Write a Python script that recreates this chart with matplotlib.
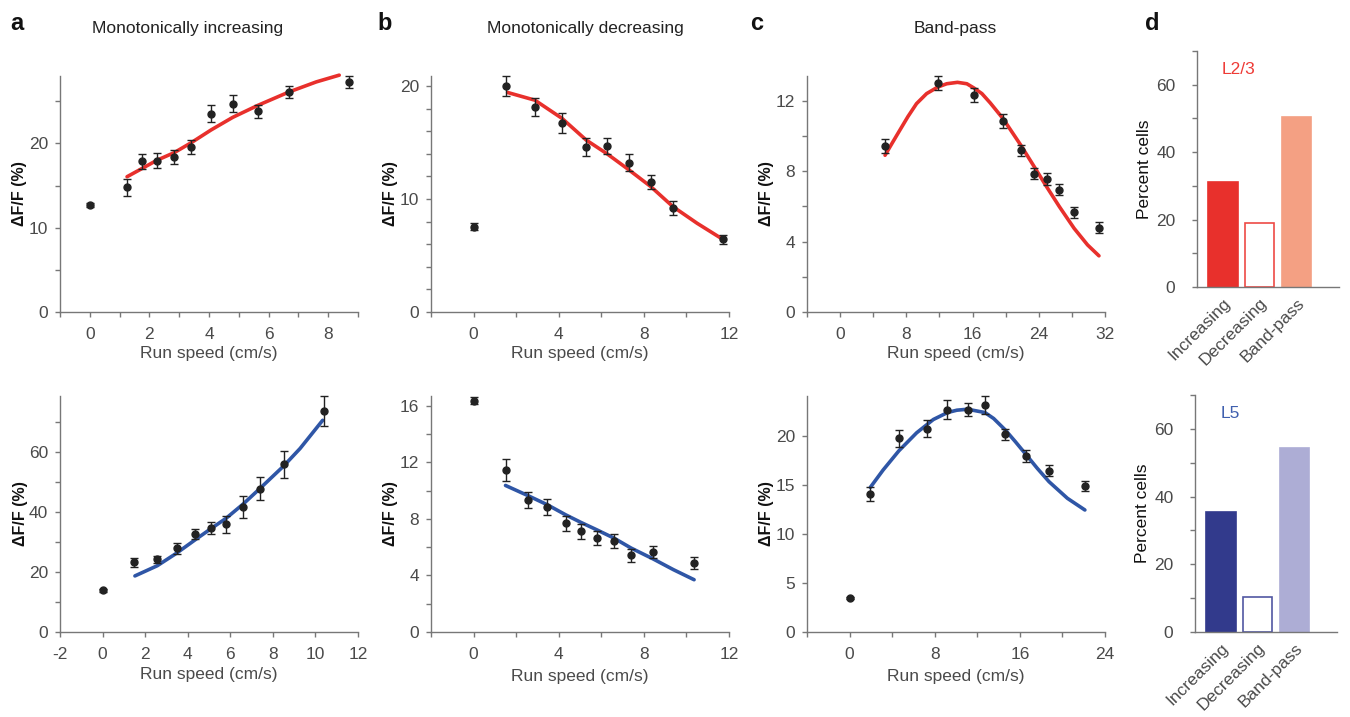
import matplotlib
matplotlib.use('Agg')
import matplotlib.pyplot as plt
from matplotlib.ticker import MultipleLocator

plt.rcParams['font.family'] = ['Liberation Sans', 'DejaVu Sans']
plt.rcParams['axes.unicode_minus'] = False

W, H = 1350, 717

# ---- data: L2/3 (top row) ----
inc23_x = [0, 1.24, 1.74, 2.25, 2.83, 3.41, 4.07, 4.80, 5.63, 6.68, 8.70]
inc23_y = [12.7, 14.8, 17.9, 17.95, 18.4, 19.6, 23.55, 24.7, 23.8, 26.1, 27.3]
inc23_e = [0.2, 1.0, 0.9, 0.9, 0.8, 0.8, 1.0, 1.0, 0.8, 0.7, 0.7]
inc23_fx = [1.25, 1.74, 2.25, 2.83, 3.41, 4.07, 4.80, 5.63, 6.68, 7.6, 8.37]
inc23_fy = [16.05, 17.0, 18.0, 18.9, 20.1, 21.6, 23.1, 24.5, 26.1, 27.3, 28.1]

dec23_x = [0, 1.53, 2.88, 4.16, 5.29, 6.28, 7.29, 8.33, 9.36, 11.74]
dec23_y = [7.57, 20.0, 18.17, 16.76, 14.58, 14.7, 13.2, 11.5, 9.19, 6.45]
dec23_e = [0.3, 0.9, 0.8, 0.9, 0.8, 0.7, 0.75, 0.65, 0.6, 0.4]
dec23_fx = [1.6, 2.88, 4.16, 5.29, 6.28, 7.29, 8.33, 9.36, 10.5, 11.74]
dec23_fy = [19.44, 18.76, 17.14, 15.23, 14.0, 12.6, 11.1, 9.34, 7.86, 6.4]

bp23_x = [5.43, 11.79, 16.16, 19.68, 21.83, 23.45, 24.95, 26.49, 28.27, 31.27]
bp23_y = [9.43, 13.0, 12.32, 10.87, 9.17, 7.85, 7.55, 6.94, 5.66, 4.79]
bp23_e = [0.42, 0.38, 0.42, 0.4, 0.3, 0.3, 0.35, 0.32, 0.32, 0.3]
bp23_fx = [5.43, 6.3, 7.21, 8.2, 9.23, 10.45, 11.79, 12.88, 14.18, 15.31,
           16.16, 17.13, 18.14, 19.68, 21.83, 23.45, 24.95, 26.49, 28.27,
           29.89, 31.27]
bp23_fy = [8.9, 9.6, 10.32, 11.1, 11.83, 12.40, 12.77, 12.96, 13.04, 12.96,
           12.72, 12.40, 11.87, 10.98, 9.47, 8.25, 7.11, 5.98, 4.75, 3.81, 3.19]

# ---- data: L5 (bottom row) ----
inc5_x = [0, 1.49, 2.57, 3.48, 4.34, 5.08, 5.80, 6.61, 7.40, 8.50, 10.38]
inc5_y = [13.9, 23.2, 24.3, 27.9, 32.7, 34.6, 35.9, 41.8, 47.8, 55.9, 73.6]
inc5_e = [0.5, 1.4, 1.2, 1.9, 1.7, 2.0, 2.8, 3.7, 3.8, 4.5, 5.0]
inc5_fx = [1.52, 2.57, 3.48, 4.34, 5.08, 5.80, 6.61, 7.40, 8.50, 9.28, 10.34]
inc5_fy = [18.7, 22.1, 26.3, 30.7, 34.4, 37.9, 42.7, 47.9, 55.3, 61.2, 70.6]

dec5_x = [0, 1.50, 2.57, 3.47, 4.33, 5.05, 5.79, 6.60, 7.40, 8.45, 10.36]
dec5_y = [16.38, 11.47, 9.35, 8.84, 7.70, 7.12, 6.64, 6.46, 5.42, 5.68, 4.88]
dec5_e = [0.28, 0.8, 0.55, 0.58, 0.52, 0.51, 0.48, 0.5, 0.45, 0.42, 0.42]
dec5_fx = [1.50, 2.57, 3.47, 4.33, 5.05, 5.79, 6.60, 7.40, 8.45, 9.39, 10.36]
dec5_fy = [10.37, 9.64, 9.0, 8.29, 7.75, 7.23, 6.64, 5.94, 5.16, 4.41, 3.70]

bp5_x = [0, 1.95, 4.63, 7.24, 9.20, 11.09, 12.72, 14.65, 16.54, 18.74, 22.11]
bp5_y = [3.5, 14.09, 19.76, 20.78, 22.72, 22.72, 23.16, 20.2, 17.96, 16.47, 14.9]
bp5_e = [0.12, 0.68, 0.85, 0.85, 0.95, 0.7, 0.9, 0.58, 0.6, 0.58, 0.55]
bp5_fx = [1.95, 3.15, 4.63, 6.30, 7.87, 9.20, 10.08, 11.09, 12.72, 13.54,
          14.65, 15.59, 16.54, 17.64, 18.74, 20.47, 22.11]
bp5_fy = [14.77, 16.54, 18.5, 20.34, 21.7, 22.41, 22.65, 22.75, 22.41, 21.8,
          20.61, 19.42, 18.17, 16.71, 15.35, 13.65, 12.46]

# ---- data: percent cells ----
classes = ['Increasing', 'Decreasing', 'Band-pass']
pct23 = [31, 19, 50.5]
pct5 = [35.5, 10.2, 54.3]

RED = '#e8302c'
BLUE = '#2f56a6'
GREY = '#4a4a4a'

fig = plt.figure(figsize=(W / 100, H / 100), dpi=100)


def box(l, r, t, b):
    return [l / W, 1 - b / H, (r - l) / W, (b - t) / H]


def style(ax, ypad=5):
    for s in ['top', 'right']:
        ax.spines[s].set_visible(False)
    for s in ['left', 'bottom']:
        ax.spines[s].set_color('#777777')
        ax.spines[s].set_linewidth(1.0)
    ax.tick_params(which='both', direction='out', length=3.5, width=1.0,
                   color='#777777', labelcolor=GREY, labelsize=12.5)
    ax.tick_params(axis='x', which='both', pad=7)
    ax.tick_params(axis='y', which='both', pad=ypad)


def tuning(pos, x, y, e, fx, fy, col, xlim, ylim, xmaj, xmin, ymaj, ymin,
           xpad):
    ax = fig.add_axes(pos)
    style(ax)
    ax.plot(fx, fy, color=col, lw=2.6, solid_capstyle='round', zorder=2,
            clip_on=False)
    ax.errorbar(x, y, yerr=e, fmt='o', color='#222222', ms=5, elinewidth=1.0,
                capsize=2.6, capthick=1.0, zorder=3, clip_on=False)
    ax.set_xlim(*xlim)
    ax.set_ylim(*ylim)
    ax.xaxis.set_major_locator(MultipleLocator(xmaj))
    ax.xaxis.set_minor_locator(MultipleLocator(xmin))
    ax.yaxis.set_major_locator(MultipleLocator(ymaj))
    if ymin:
        ax.yaxis.set_minor_locator(MultipleLocator(ymin))
    ax.set_xlabel('Run speed (cm/s)', fontsize=12.5, color=GREY, labelpad=xpad)
    ax.set_ylabel('ΔF/F (%)', fontsize=11.5, fontweight='bold', color='#111111',
                  labelpad=1)
    return ax


top_t, top_b = 76, 312
bot_t, bot_b = 396, 632

ax = tuning(box(60, 358, top_t, top_b), inc23_x, inc23_y, inc23_e, inc23_fx,
            inc23_fy, RED, (-1, 9), (0, 28), 2, 1, 10, 5, 3)
ax.set_xticks([0, 2, 4, 6, 8])
ax = tuning(box(431, 729, top_t, top_b), dec23_x, dec23_y, dec23_e, dec23_fx,
            dec23_fy, RED, (-2, 12), (0, 20.9), 4, 2, 10, 2, 3)
ax.set_xticks([0, 4, 8, 12])
ax = tuning(box(807, 1105, top_t, top_b), bp23_x, bp23_y, bp23_e, bp23_fx,
            bp23_fy, RED, (-4, 32), (0, 13.4), 8, 4, 4, 2, 3)
ax.set_xticks([0, 8, 16, 24, 32])

ax = tuning(box(60, 358, bot_t, bot_b), inc5_x, inc5_y, inc5_e, inc5_fx,
            inc5_fy, BLUE, (-2, 12), (0, 78.7), 2, 1, 20, 10, 4)
ax.xaxis.set_minor_locator(MultipleLocator(2))
ax = tuning(box(431, 729, bot_t, bot_b), dec5_x, dec5_y, dec5_e, dec5_fx,
            dec5_fy, BLUE, (-2, 12), (0, 16.7), 4, 2, 4, 2, 5)
ax.set_xticks([0, 4, 8, 12])
ax = tuning(box(807, 1105, bot_t, bot_b), bp5_x, bp5_y, bp5_e, bp5_fx,
            bp5_fy, BLUE, (-4, 24), (0, 24.1), 8, 4, 5, None, 5)
ax.set_xticks([0, 8, 16, 24])


def bars(pos, vals, cols, edge, label, lcol, lx, ly):
    ax = fig.add_axes(pos)
    style(ax, ypad=12)
    xs = list(range(len(vals)))
    for i, v in enumerate(vals):
        ax.bar(xs[i], v, width=0.8, color=cols[i], edgecolor=edge[i],
               linewidth=1.2)
    ax.set_xlim(-0.7, 3.15)
    ax.set_ylim(0, 70)
    ax.yaxis.set_major_locator(MultipleLocator(20))
    ax.yaxis.set_minor_locator(MultipleLocator(10))
    ax.set_xticks(xs)
    ax.set_xticklabels(classes, rotation=45, ha='right', rotation_mode='anchor',
                       fontsize=12.5, color=GREY)
    ax.tick_params(axis='x', length=0, pad=6)
    ax.set_ylabel('Percent cells', fontsize=12.5, color='#111111', labelpad=3)
    ax.text(lx, ly, label, transform=ax.transAxes, color=lcol, fontsize=12.5,
            ha='center', va='center')
    return ax


bars(box(1197, 1339, 51, 287), pct23, [RED, 'white', '#f4a083'],
     [RED, '#ee4a45', '#f4a083'], 'L2/3', '#ee3b36', 0.29, 0.92)
bars(box(1195, 1337, 395, 632), pct5, ['#323a8c', 'white', '#adadd5'],
     ['#323a8c', '#5257a2', '#adadd5'], 'L5', '#3f5fae', 0.25, 0.92)

# panel letters and titles
for lx, lt in [(17, 'a'), (385, 'b'), (757, 'c'), (1152, 'd')]:
    fig.text(lx / W, 1 - 24 / H, lt, fontsize=17, fontweight='bold',
             ha='center', va='center', color='#111111')
for tx, tt in [(188, 'Monotonically increasing'),
               (585, 'Monotonically decreasing'), (955, 'Band-pass')]:
    fig.text(tx / W, 1 - 28 / H, tt, fontsize=12.5, ha='center', va='center',
             color='#222222')

fig.savefig('out.png', dpi=100)
